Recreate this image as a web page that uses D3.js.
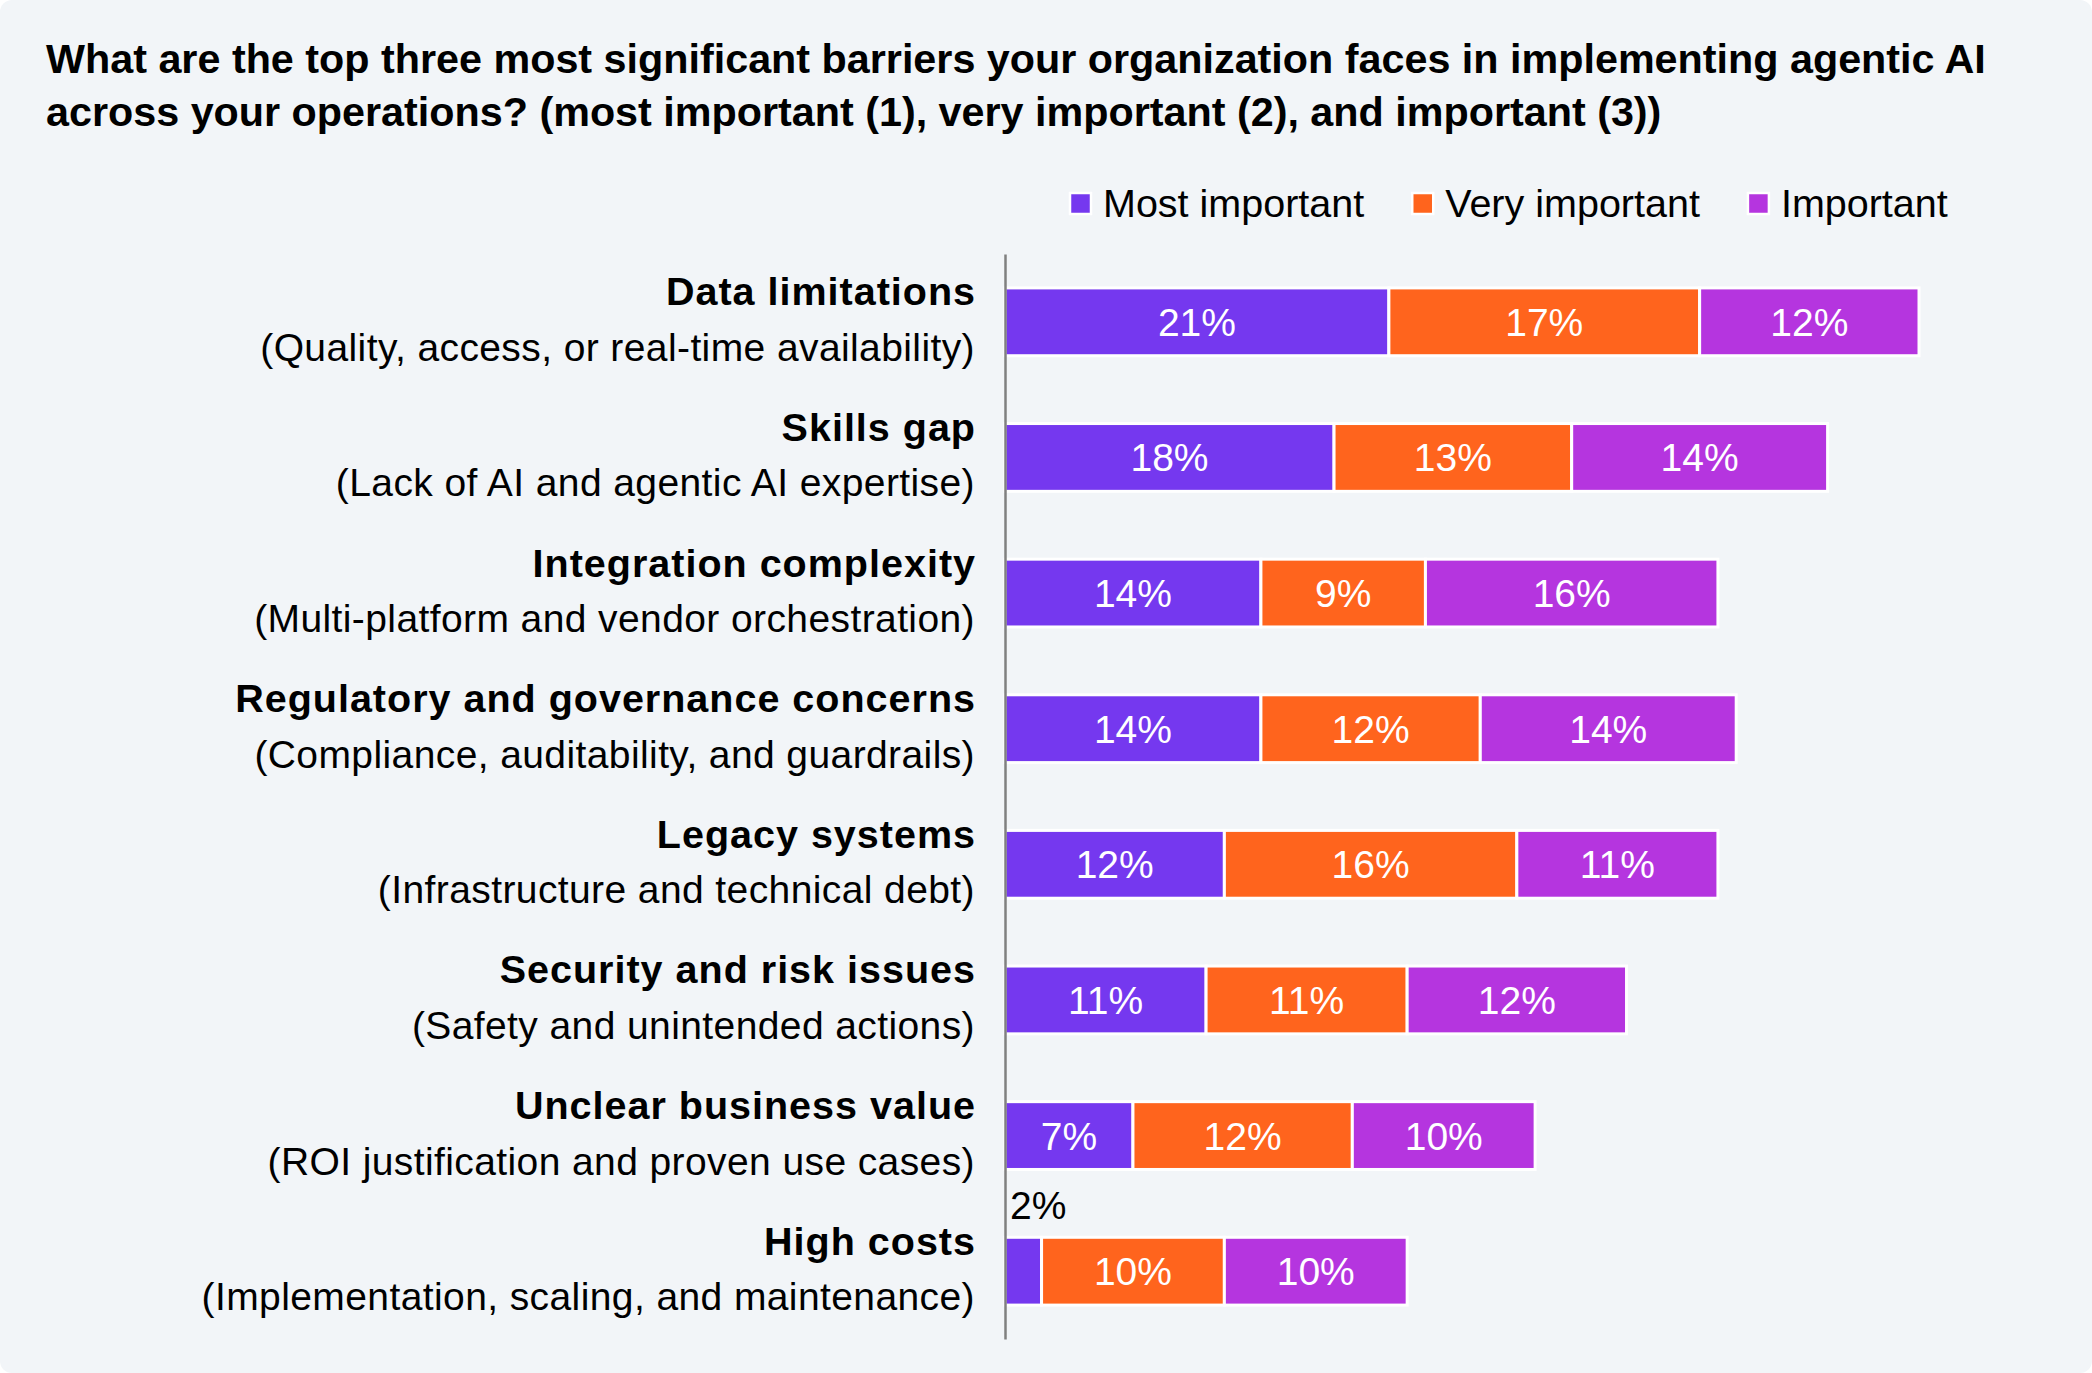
<!DOCTYPE html>
<html>
<head>
<meta charset="utf-8">
<script src="https://cdn.jsdelivr.net/npm/d3@7"></script>
<style>
  html, body { margin: 0; padding: 0; background: #ffffff; }
  svg { display: block; font-family: "Liberation Sans", Arial, Helvetica, sans-serif; }
</style>
</head>
<body>
<svg id="chart"></svg>
<script>
// Chart data
const titleLines = [
    "What are the top three most significant barriers your organization faces in implementing agentic AI",
    "across your operations? (most important (1), very important (2), and important (3))"
];
const categories = [
    "Data limitations",
    "Skills gap",
    "Integration complexity",
    "Regulatory and governance concerns",
    "Legacy systems",
    "Security and risk issues",
    "Unclear business value",
    "High costs"
];
const subLabels = [
    "(Quality, access, or real-time availability)",
    "(Lack of AI and agentic AI expertise)",
    "(Multi-platform and vendor orchestration)",
    "(Compliance, auditability, and guardrails)",
    "(Infrastructure and technical debt)",
    "(Safety and unintended actions)",
    "(ROI justification and proven use cases)",
    "(Implementation, scaling, and maintenance)"
];
const seriesNames = ["Most important", "Very important", "Important"];
const mostImportant = [21, 18, 14, 14, 12, 11, 7, 2];
const veryImportant = [17, 13, 9, 12, 16, 11, 12, 10];
const important = [12, 14, 16, 14, 11, 12, 10, 10];
const seriesColors = ["#7538ef", "#ff641d", "#b535df"];

// Dimensions
const W = 2092, H = 1373;
const axisX = 1005;

const svg = d3.select("#chart")
    .attr("width", W)
    .attr("height", H);

// Background panel
svg.append("rect")
    .attr("x", 0).attr("y", 0)
    .attr("width", W).attr("height", H)
    .attr("rx", 12)
    .attr("fill", "#f2f5f8");

// Title
svg.append("g").selectAll("text")
    .data(titleLines)
    .join("text")
    .attr("x", 46)
    .attr("y", (d, i) => 73 + i * 53)
    .attr("font-size", 41.3)
    .attr("font-weight", "bold")
    .attr("fill", "#000")
    .text(d => d);

// Stack the series
const rows = categories.map((c, i) => ({
    category: c,
    sub: subLabels[i],
    "Most important": mostImportant[i],
    "Very important": veryImportant[i],
    "Important": important[i]
}));
const stacked = d3.stack().keys(seriesNames)(rows);

// Scales
const x = d3.scaleLinear()
    .domain([0, 50])
    .range([axisX, 1919]);

const y = d3.scaleBand()
    .domain(categories)
    .range([254, 1339])
    .paddingInner(0.5)
    .paddingOuter(0.25);

const color = d3.scaleOrdinal()
    .domain(seriesNames)
    .range(seriesColors);

// Bars
const layers = svg.append("g")
    .selectAll("g")
    .data(stacked)
    .join("g")
    .attr("fill", d => color(d.key));

layers.selectAll("rect")
    .data(d => d)
    .join("rect")
    .attr("x", d => x(d[0]))
    .attr("y", d => y(d.data.category))
    .attr("width", d => x(d[1]) - x(d[0]))
    .attr("height", y.bandwidth())
    .attr("stroke", "#ffffff")
    .attr("stroke-width", 3);

// Value labels
layers.each(function(layer) {
    d3.select(this).selectAll("text")
        .data(layer)
        .join("text")
        .attr("font-size", 39)
        .each(function(d) {
            const v = d[1] - d[0];
            const t = d3.select(this).text(v + "%");
            if (v < 3) {
                // too narrow: put it above the bar
                t.attr("x", x(d[0]) + 5)
                 .attr("y", y(d.data.category) - 18)
                 .attr("fill", "#000")
                 .attr("text-anchor", "start");
            } else {
                t.attr("x", (x(d[0]) + x(d[1])) / 2)
                 .attr("y", y(d.data.category) + y.bandwidth() / 2)
                 .attr("dy", "0.36em")
                 .attr("fill", "#ffffff")
                 .attr("text-anchor", "middle");
            }
        });
});

// Y axis line
const yAxis = svg.append("g")
    .attr("transform", `translate(${axisX},0)`)
    .call(d3.axisLeft(y).tickSize(0).tickSizeOuter(0).tickFormat(""));
yAxis.select(".domain")
    .attr("stroke", "#808080")
    .attr("stroke-width", 2.5);
yAxis.selectAll(".tick").remove();

// Category labels (bold name + description)
const labels = svg.append("g")
    .selectAll("g")
    .data(rows)
    .join("g")
    .attr("transform", d => `translate(975,${y(d.category) + y.bandwidth() / 2})`);

labels.append("text")
    .attr("x", 1)
    .attr("y", -16.5)
    .attr("text-anchor", "end")
    .attr("font-size", 39.5)
    .attr("font-weight", "bold")
    .attr("letter-spacing", 1.0)
    .attr("fill", "#000")
    .text(d => d.category);

labels.append("text")
    .attr("y", 39)
    .attr("text-anchor", "end")
    .attr("font-size", 39)
    .attr("letter-spacing", 0.4)
    .attr("fill", "#000")
    .text(d => d.sub);

// Legend
const legend = svg.append("g");
let cursor = 1070;
seriesNames.forEach(name => {
    const item = legend.append("g").attr("transform", `translate(${cursor},0)`);
    item.append("rect")
        .attr("x", 0)
        .attr("y", 193)
        .attr("width", 21)
        .attr("height", 21)
        .attr("fill", color(name))
        .attr("stroke", "#ffffff")
        .attr("stroke-width", 2.5);
    const txt = item.append("text")
        .attr("x", 33)
        .attr("y", 217)
        .attr("font-size", 39.5)
        .attr("fill", "#000")
        .text(name);
    cursor += 33 + txt.node().getComputedTextLength() + 48;
});
</script>
</body>
</html>
